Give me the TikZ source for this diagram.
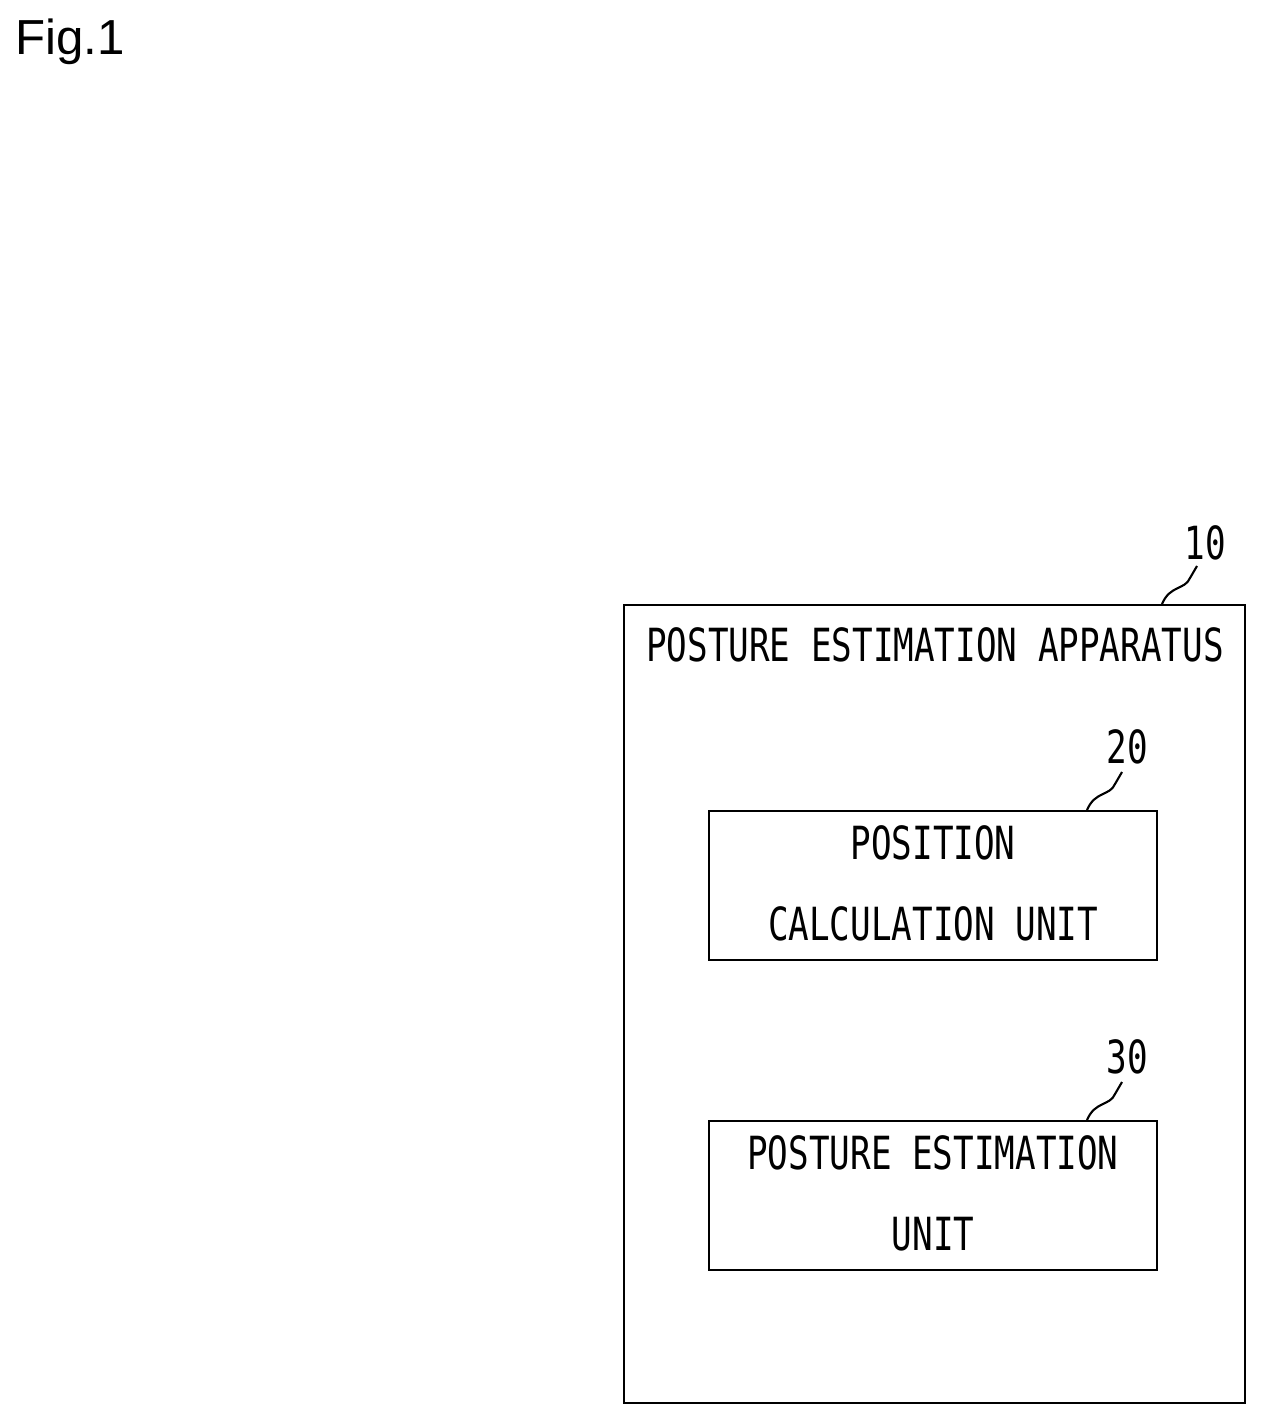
\documentclass[tikz,border=0pt]{standalone}
\usepackage{fontspec}
\setmainfont{Liberation Sans}
\newfontfamily\gfont[FakeStretch=0.75]{DejaVu Sans Mono}
\begin{document}
\begin{tikzpicture}[x=0.02cm,y=-0.02cm]
\tikzstyle{every node}+=[inner sep=0pt]
\tikzset{unitbox/.style={draw,line width=1.4pt},
  lbl/.style={font=\gfont\fontsize{26}{50}\selectfont,align=center},
  lead/.style={line width=1.2pt}}
\useasboundingbox (0,0) rectangle (1267,1425);
\node[font=\fontsize{28}{30}\selectfont] (fig) at (70,42) {Fig.1};
%apparatus
\draw[unitbox] (624,605) rectangle (1245,1403);
\node[lbl] (app) at (935,645) {POSTURE ESTIMATION APPARATUS};
\node[lbl] (n10) at (1205,543) {10};
\draw[lead] (1162,604) .. controls (1170,585) and (1185,590) .. (1190,578) .. controls (1193,572) .. (1197,566);
%position calculation unit
\draw[unitbox] (709,811) rectangle (1157,960);
\node[lbl] (pos) at (933,883) {POSITION\\[-4pt]CALCULATION UNIT};
\node[lbl] (n20) at (1127,747) {20};
\draw[lead] (1087,810) .. controls (1095,791) and (1110,796) .. (1115,784) .. controls (1118,778) .. (1122,772);
%posture estimation unit
\draw[unitbox] (709,1121) rectangle (1157,1270);
\node[lbl] (est) at (933,1193) {POSTURE ESTIMATION\\[-4pt]UNIT};
\node[lbl] (n30) at (1127,1057) {30};
\draw[lead] (1087,1120) .. controls (1095,1101) and (1110,1106) .. (1115,1094) .. controls (1118,1088) .. (1122,1082);
\end{tikzpicture}
\end{document}
